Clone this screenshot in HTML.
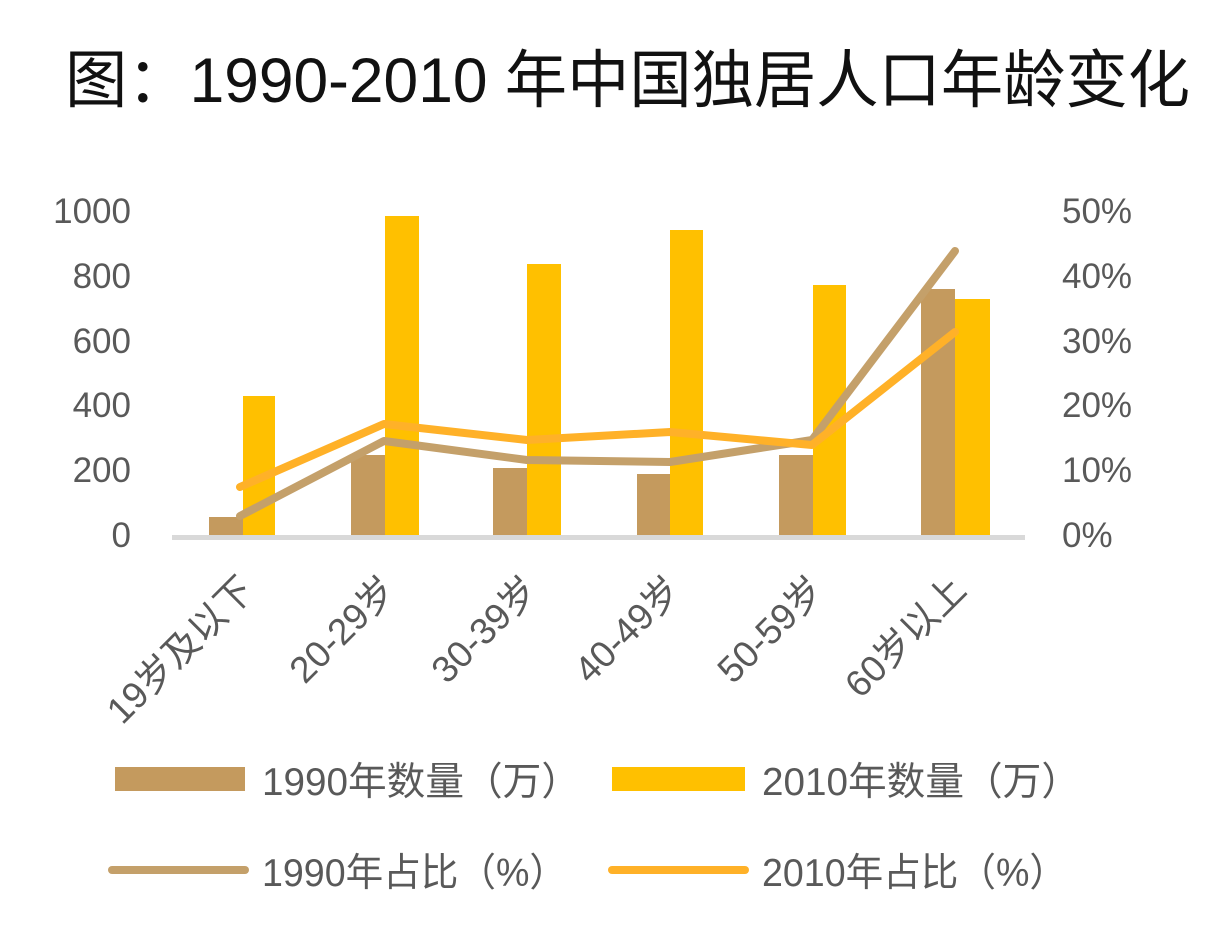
<!DOCTYPE html>
<html><head><meta charset="utf-8"><style>
body{margin:0;background:#fff;}
svg{display:block;}
text{font-family:"Liberation Sans","Noto Sans CJK SC",sans-serif;}
</style></head><body>
<svg width="1212" height="938" viewBox="0 0 1212 938">
<rect width="1212" height="938" fill="#fff"/>
<text x="65" y="102" font-size="63" textLength="1125" lengthAdjust="spacingAndGlyphs" fill="#111">图：1990-2010 年中国独居人口年龄变化</text>
<g font-size="35" fill="#595959" text-anchor="end">
<text x="131" y="223">1000</text><text x="131" y="288">800</text><text x="131" y="353">600</text>
<text x="131" y="417">400</text><text x="131" y="482">200</text><text x="131" y="547">0</text>
</g>
<g font-size="35" fill="#595959" text-anchor="start">
<text x="1062" y="223">50%</text><text x="1062" y="288">40%</text><text x="1062" y="353">30%</text>
<text x="1062" y="417">20%</text><text x="1062" y="482">10%</text><text x="1062" y="547">0%</text>
</g>
<g fill="#c49a5e">
<rect x="209" y="517" width="34" height="20"/>
<rect x="351" y="455" width="34" height="82"/>
<rect x="493" y="468" width="34" height="69"/>
<rect x="637" y="474" width="33" height="63"/>
<rect x="779" y="455" width="34" height="82"/>
<rect x="921" y="289" width="34" height="248"/>
</g>
<g fill="#ffc000">
<rect x="243" y="396" width="32" height="141"/>
<rect x="385" y="216" width="34" height="321"/>
<rect x="527" y="264" width="34" height="273"/>
<rect x="670" y="230" width="33" height="307"/>
<rect x="813" y="285" width="33" height="252"/>
<rect x="955" y="299" width="35" height="238"/>
</g>
<rect x="172" y="535" width="853" height="5" fill="#d9d9d9"/>
<polyline points="240,516 384,441 527,460 670,462 812,440 955,251" fill="none" stroke="#c4a06a" stroke-width="8" stroke-linecap="round" stroke-linejoin="round"/>
<polyline points="240,487 384,424 527,440 670,432 812,445 955,332" fill="none" stroke="#ffb128" stroke-width="8" stroke-linecap="round" stroke-linejoin="round"/>
<g font-size="37" fill="#595959" text-anchor="end">
<text transform="translate(256,592) rotate(-45)">19岁及以下</text>
<text transform="translate(398,592) rotate(-45)">20-29岁</text>
<text transform="translate(540,592) rotate(-45)">30-39岁</text>
<text transform="translate(683,592) rotate(-45)">40-49岁</text>
<text transform="translate(826,592) rotate(-45)">50-59岁</text>
<text transform="translate(968,592) rotate(-45)">60岁以上</text>
</g>
<rect x="115" y="767" width="130" height="24" fill="#c49a5e"/>
<rect x="612" y="767" width="133" height="24" fill="#ffc000"/>
<line x1="112" y1="870" x2="245" y2="870" stroke="#c4a06a" stroke-width="8" stroke-linecap="round"/>
<line x1="612" y1="870" x2="745" y2="870" stroke="#ffb128" stroke-width="8" stroke-linecap="round"/>
<g font-size="39" fill="#595959">
<text x="262" y="795" textLength="318" lengthAdjust="spacingAndGlyphs">1990年数量（万）</text>
<text x="762" y="795" textLength="318" lengthAdjust="spacingAndGlyphs">2010年数量（万）</text>
<text x="262" y="886" textLength="305" lengthAdjust="spacingAndGlyphs">1990年占比（%）</text>
<text x="762" y="886" textLength="305" lengthAdjust="spacingAndGlyphs">2010年占比（%）</text>
</g>
</svg>
</body></html>
